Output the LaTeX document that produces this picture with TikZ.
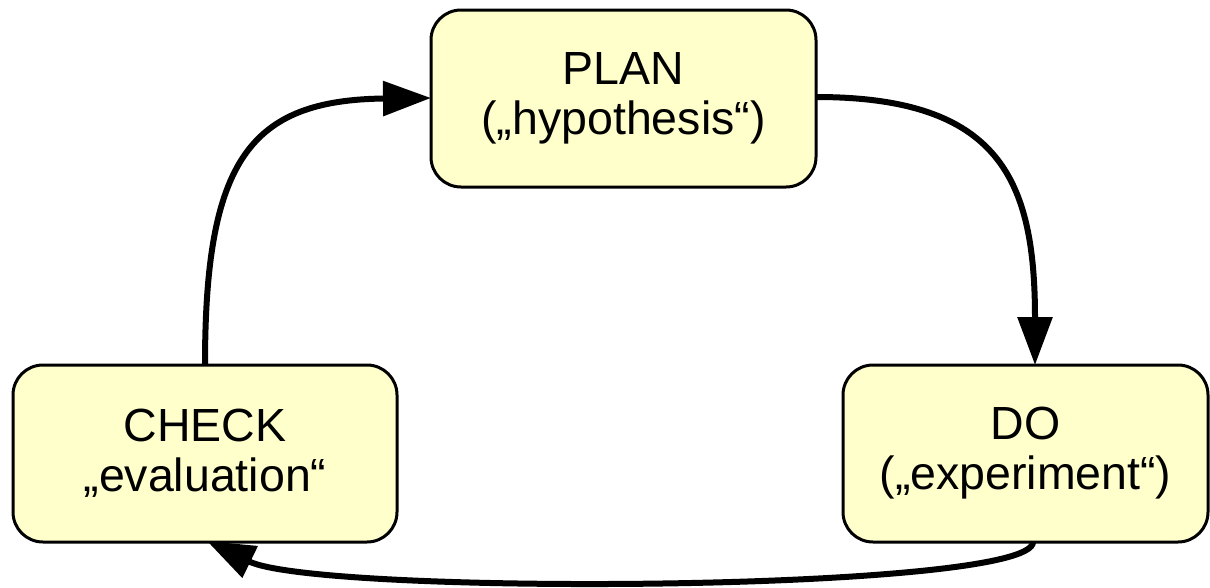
\documentclass[tikz,border=0pt]{standalone}
\usepackage{fontspec}
\setmainfont{Liberation Sans}
\usetikzlibrary{arrows.meta}
\definecolor{boxfill}{HTML}{FFFFCC}
\tikzset{
  phase/.style={draw=black, line width=3pt, fill=boxfill, rounded corners=30pt,
    minimum height=177pt, align=center, inner sep=0pt,
    font=\fontsize{46.5}{50}\selectfont},
  flow/.style={line width=6pt, -{Triangle[length=48pt,width=34pt]}},
}
\begin{document}
\begin{tikzpicture}[x=1pt,y=-1pt]
\useasboundingbox (0,0) rectangle (1210,587);
\node[phase, minimum width=385pt] (plan) at (623.5,98.5) {PLAN\\(„hypothesis“)};
\node[phase, minimum width=384pt] (check) at (205,453.5) {CHECK\\„evaluation“};
\node[phase, minimum width=365pt] (do) at (1025.5,453.5) {DO\\(„experiment“)};
\coordinate (ct) at (205,365);
\coordinate (pl) at (431,98);
\coordinate (pr) at (816,97);
\coordinate (dt) at (1035,365);
\coordinate (db) at (1033,542);
\coordinate (cb) at (207,541);
\draw[flow] (ct) .. controls (205,160) and (250,100) .. (pl);
\draw[flow] (pr) .. controls (1000,97) and (1035,180) .. (dt);
\draw[flow] (db) .. controls (1033,592) and (320,596) .. (cb);
\end{tikzpicture}
\end{document}
